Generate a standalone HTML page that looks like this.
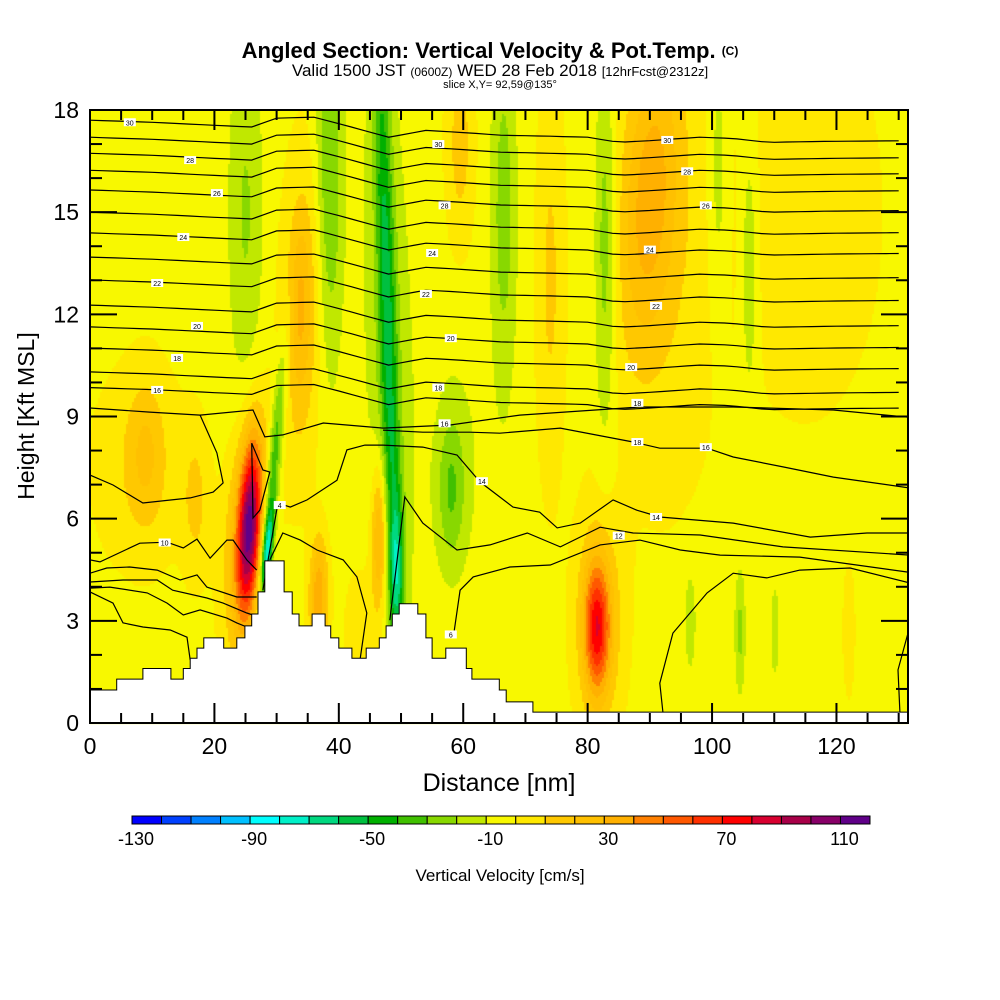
<!DOCTYPE html>
<html><head><meta charset="utf-8">
<style>
html,body{margin:0;padding:0;background:#fff;}
#wrap{position:relative;width:1000px;height:1000px;overflow:hidden;font-family:"Liberation Sans",sans-serif;}
canvas,svg{position:absolute;left:0;top:0;}
</style></head>
<body>
<div id="wrap">
<canvas id="cv" width="1000" height="1000"></canvas>
<svg id="sv" width="1000" height="1000"></svg>
</div>
<script>
// ---- data ----
const colorLevels=[-130,-120,-110,-100,-90,-80,-70,-60,-50,-40,-30,-20,-10,0,10,20,30,40,50,60,70,80,90,100,110];
const colorHex=["#0000ff","#0040ff","#0080ff","#00c0ff","#00ffff","#00f0c8","#00d880","#00c040","#00b000","#40c000","#88d800","#c0e800","#f8f800","#ffe800","#ffc800","#ffc000","#ffb000","#ff8000","#ff5800","#ff3000","#ff0000","#d80030","#a80048","#880068","#600088"];
const colorbarLabels=[-130,-90,-50,-10,30,70,110];
const xTicks=[0,20,40,60,80,100,120];
const yTicks=[0,3,6,9,12,15,18];
const baseVelocity=-3;
// features: distance nm, height kft, sigma nm, sigma kft, amplitude cm/s, tilt nm/kft
const featX=[25.6,25.3,28.5,29.5,38.5,25,47.8,48,49.3,34,33.8,46.5,36.5,81.5,81.8,90,92,82.8,66.5,58,59,104.5,96.5,110.1,9,17,122,106,59.5,74,37,8,115,44,101];
const featZ=[5.8,5.5,5.0,7.5,16,15,12,11,4.5,12,12.4,5.5,3.4,2.8,3.0,15.5,14,14,15,6.8,7.5,2.7,3.0,2.7,8,6.5,2.7,13.5,17,13,4,7.5,15,2.5,16];
const featSX=[1.2,2.2,0.6,0.8,1.5,2,1.0,3.0,0.8,2.2,1.0,0.9,1.0,1.4,2.5,3,6,1.2,1.5,1.5,3,0.6,0.6,0.5,2,1.5,0.6,1.0,1.5,1.5,1.0,5,8,2,1.2];
const featSZ=[1.7,2.3,0.9,2.5,4,4,7,7,1.5,3,1.5,1.5,1.2,1.3,2.2,3,5,4,4,1.5,2.5,1.3,1.0,1.0,1.5,1.5,1.2,3,2,4,1.2,2,4,1.5,3];
const featAmp=[78,45,-70,-40,-28,-18,-40,-15,-40,25,12,40,22,58,27,30,12,-25,-22,-20,-10,-20,-18,-15,15,15,12,-18,18,15,22,12,10,12,-15];
const featTilt=[0.25,0.3,0.5,0.5,0,0,-0.15,-0.15,0,0.1,0,0,0,0,0,0.3,0,0,0,0,0,0,0,0,0,0,0,0,0,0,0,0,0,0,0];
// terrain
const terrainX=[0,4.3,4.3,8.5,8.5,13.0,13.0,15.0,15.0,16.1,16.1,17.2,17.2,18.3,18.3,21.5,21.5,23.6,23.6,24.9,24.9,26.0,26.0,27.0,27.0,28.1,28.1,31.2,31.2,32.5,32.5,33.6,33.6,35.7,35.7,37.8,37.8,38.7,38.7,40.0,40.0,42.1,42.1,44.4,44.4,46.5,46.5,47.6,47.6,48.6,48.6,49.7,49.7,52.7,52.7,54.0,54.0,55.0,55.0,57.2,57.2,60.5,60.5,61.4,61.4,65.8,65.8,66.9,66.9,71.2,71.2,131.5];
const terrainZ=[0.97,0.97,1.29,1.29,1.6,1.6,1.29,1.29,1.6,1.6,1.9,1.9,2.2,2.2,2.5,2.5,2.2,2.2,2.5,2.5,2.85,2.85,3.2,3.2,3.85,3.85,4.76,4.76,3.85,3.85,3.2,3.2,2.85,2.85,3.2,3.2,2.85,2.85,2.5,2.5,2.2,2.2,1.9,1.9,2.2,2.2,2.5,2.5,2.85,2.85,3.2,3.2,3.5,3.5,3.2,3.2,2.5,2.5,1.9,1.9,2.2,2.2,1.6,1.6,1.29,1.29,0.97,0.97,0.62,0.62,0.32,0.32];
// theta contours
const upperBase=[17.70,17.20,16.73,16.23,15.65,15.00,14.39,13.68,13.01,12.27,11.63,11.01,10.31,9.85];
const dispNm=[0,10,20,26,30,36,41,48,54,59,66,74,80,85,90,98,103,109,119,132];
const dispKft=[0,0.06,0.15,0.2,-0.06,-0.09,0.15,0.5,0.3,0.35,0.44,0.47,0.5,0.65,0.6,0.5,0.53,0.65,0.62,0.6];
const lineLA=[0,9.25,9.6,9.13,17.7,9.04,26.2,9.19,28.1,8.40,31.0,8.46,37.5,8.81,47.1,8.66,57.9,8.75,69.1,9.04,88.4,9.28,103.4,9.28,119.5,9.19,131.5,8.98];
const lineLB=[0,7.28,3.7,6.99,8.5,6.46,16.1,6.61,19.8,6.78,21.4,7.05,20.4,7.93,17.7,9.04];
const lineLC=[47.1,8.60,53.5,8.54,61.1,8.54,65.9,8.51,75.6,8.66,87.3,8.25,91.6,8.07,99.2,8.07,103.4,7.81,111.4,7.52,119.5,7.22,131.8,6.90];
const lineLD=[27.8,3.90,30.2,6.46,32.2,6.34,34.9,6.55,39.7,7.13,41.3,8.02,44.2,8.16,47.1,8.16,53.5,8.10,59.0,7.87,62.7,7.08,68.0,6.34,72.3,6.19,75.1,5.73,78.8,5.87,84.1,6.55,87.9,6.25,91.6,6.05,103.4,5.87,115.8,5.46,124.9,5.58,131.8,5.58];
const lineLE=[28.9,4.79,31.0,5.58,33.8,5.37,36.5,5.08,40.7,4.79,42.9,4.29,44.5,3.23,43.4,1.85];
const lineLF=[48.2,3.02,50.6,6.64,53.5,5.87,59.0,5.08,64.3,5.23,70.3,5.58,75.6,5.17,82.0,5.75,87.3,5.58,98.1,5.52,111.4,5.17,131.8,4.93];
const lineLG=[58.4,2.52,59.5,3.90,61.6,4.29,67.5,4.58,74.0,4.64,82.0,5.23,88.4,5.37,94.9,5.08,101.3,4.93,114.1,4.87,131.5,4.43];
const lineLH=[92.1,0.32,91.6,1.17,93.7,2.64,99.2,3.82,103.4,4.40,108.8,4.26,114.1,4.49,122.2,4.55,131.8,4.11];
const lineLI=[131.5,2.64,129.9,1.56,130.2,0.32];
const lineRing=[26.0,8.22,26.2,6.02,27.3,6.25,28.9,7.37,27.8,7.43,26.0,8.22];
const lineL10=[0,4.79,1.6,4.73,8.0,5.28,12.4,5.31,15.0,5.14,17.2,5.40,19.3,4.84,22.0,5.37,23.0,5.37,25.2,4.79,26.8,4.49];
const lineL2=[0,4.40,2.7,4.55,6.4,4.58,10.8,4.49,14.5,4.20,17.2,4.35,18.8,3.99,23.6,3.70,26.8,3.70];
const lineL3=[0,4.14,5.3,4.20,10.8,4.20,13.3,3.90,18.8,3.67,21.4,3.52,25.2,3.23,26.2,3.17];
const lineL4=[0,3.96,3.2,3.99,9.2,3.82,12.4,3.52,15.0,3.17,17.7,3.32,22.0,3.08,23.6,2.94,25.2,2.82];
const lineL5=[0,3.85,3.7,3.52,5.3,2.94,8.5,2.82,12.9,2.73,15.6,2.52,16.1,1.85];
const labelNm=[6.4,16.1,20.4,15.0,10.8,17.2,14.0,10.8,92.8,96,99,90,91,87,88,56,57,55,54,58,56,57,88,63,64,91,85,12,30.5,58,99];
const labelKft=[17.64,16.53,15.56,14.27,12.92,11.66,10.72,9.78,17.12,16.2,15.2,13.9,12.25,10.45,9.4,17.0,15.2,13.8,12.6,11.3,9.85,8.8,8.25,7.1,6.7,6.05,5.5,5.3,6.4,2.6,8.1];
const labelText=["30","28","26","24","22","20","18","16","30","28","26","24","22","20","18","30","28","24","22","20","18","16","18","14","","14","12","10","4","6","16"];

// ---- scales ----
const X0=90,X1=908,Y0=723,Y1=110,NMMAX=131.5,KMAX=18;
const sx=v=>X0+v*(X1-X0)/NMMAX;
const sy=v=>Y0-v*(Y0-Y1)/KMAX;
const inx=p=>(p-X0)*NMMAX/(X1-X0);
const inz=p=>(Y0-p)*KMAX/(Y0-Y1);

// ---- field ----
const cv=document.getElementById('cv');
const ctx=cv.getContext('2d');
ctx.fillStyle='#fff';ctx.fillRect(0,0,1000,1000);
function vel(d,z){
  let v=baseVelocity;
  for(let i=0;i<featX.length;i++){
    const cx=featX[i]+featTilt[i]*(z-featZ[i]);
    const a=(d-cx)/featSX[i], b=(z-featZ[i])/featSZ[i];
    const e=a*a+b*b; if(e<16) v+=featAmp[i]*Math.exp(-0.5*e);
  }
  return v;
}
function colorFor(v){
  let k=Math.floor((v-colorLevels[0])/10);
  if(k<0)k=0;if(k>colorHex.length-1)k=colorHex.length-1;
  return colorHex[k];
}
const step=2;
for(let py=Y1;py<Y0;py+=step){
  for(let px=X0;px<X1;px+=step){
    ctx.fillStyle=colorFor(vel(inx(px+1),inz(py+1)));
    ctx.fillRect(px,py,step,step);
  }
}

// ---- svg ----
const NS='http://www.w3.org/2000/svg';
const sv=document.getElementById('sv');
function mk(tag,attrs,parent){const e=document.createElementNS(NS,tag);for(const k in attrs)e.setAttribute(k,attrs[k]);(parent||sv).appendChild(e);return e;}
const defs=mk('defs',{});
const cp=mk('clipPath',{id:'plotclip'},defs);
mk('rect',{x:X0,y:Y1,width:X1-X0,height:Y0-Y1},cp);

const gl=mk('g',{'clip-path':'url(#plotclip)',fill:'none',stroke:'#000','stroke-width':1.2});


function interpDisp(d){
  for(let i=0;i<dispNm.length-1;i++){if(d>=dispNm[i]&&d<=dispNm[i+1]){const t=(d-dispNm[i])/(dispNm[i+1]-dispNm[i]);return dispKft[i]+t*(dispKft[i+1]-dispKft[i]);}}
  return dispKft[dispKft.length-1];
}
upperBase.forEach((h,j)=>{
  let pts=[];
  for(let d=0;d<=NMMAX;d+=2){
    pts.push(sx(d).toFixed(1)+','+sy(h-interpDisp(d)).toFixed(1));
  }
  const p=mk('polyline',{points:pts.join(' ')},gl);
  
  
});
[lineLA,lineLB,lineLC,lineLD,lineLE,lineLF,lineLG,lineLH,lineLI,lineRing,lineL10,lineL2,lineL3,lineL4,lineL5].forEach(arr=>{
  let pts=[];
  for(let i=0;i<arr.length;i+=2)pts.push(sx(arr[i]).toFixed(1)+','+sy(arr[i+1]).toFixed(1));
  const p=mk('polyline',{points:pts.join(' ')},gl);
  
  
});

// terrain
let tp=[];
for(let i=0;i<terrainX.length;i++)tp.push(sx(terrainX[i]).toFixed(1)+','+sy(terrainZ[i]).toFixed(1));
tp.push(sx(NMMAX)+','+Y0);tp.push(X0+','+Y0);
const terr=mk('polygon',{points:tp.join(' '),fill:'#fff',stroke:'#000','stroke-width':1});



// contour labels
labelNm.forEach((d,i)=>{
  if(!labelText[i])return;
  const g=mk('g',{});
  
  
  mk('rect',{x:sx(d)-6,y:sy(labelKft[i])-4,width:12,height:8,fill:'#fff'},g);
  const t=mk('text',{x:sx(d),y:sy(labelKft[i])+3,'font-size':7,'text-anchor':'middle','font-family':'Liberation Sans, sans-serif'},g);
  t.textContent=labelText[i];
});

// frame & ticks
const ax=mk('g',{stroke:'#000','stroke-width':2});


mk('rect',{x:X0,y:Y1,width:X1-X0,height:Y0-Y1,fill:'none'},ax);
for(let k=0;k<=KMAX;k++){
  const y=sy(k),len=(k%3===0)?27:12;
  mk('line',{x1:X0,x2:X0+len,y1:y,y2:y},ax);
  mk('line',{x1:X1,x2:X1-len,y1:y,y2:y},ax);
}
for(let d=0;d<=NMMAX;d+=5){
  const x=sx(d),len=(d%20===0)?20:10;
  mk('line',{x1:x,x2:x,y1:Y0,y2:Y0-len},ax);
  mk('line',{x1:x,x2:x,y1:Y1,y2:Y1+len},ax);
}
yTicks.forEach(v=>{
  const t=mk('text',{x:79,y:sy(v)+8,'font-size':23,'text-anchor':'end','font-family':'Liberation Sans, sans-serif'});
  
  
  t.textContent=v;
});
xTicks.forEach(v=>{
  const t=mk('text',{x:sx(v),y:754,'font-size':23,'text-anchor':'middle','font-family':'Liberation Sans, sans-serif'});
  
  
  t.textContent=v;
});
const xt=mk('text',{x:499,y:791,'font-size':25,'text-anchor':'middle','font-family':'Liberation Sans, sans-serif'});

xt.textContent='Distance [nm]';
const yt=mk('text',{x:0,y:0,'font-size':23,'text-anchor':'middle','font-family':'Liberation Sans, sans-serif',transform:'translate(34,416) rotate(-90)'});

yt.textContent='Height [Kft MSL]';

// titles
const t1=mk('text',{x:490,y:58,'font-size':22,'font-weight':'bold','text-anchor':'middle','font-family':'Liberation Sans, sans-serif'});

t1.innerHTML='Angled Section: Vertical Velocity &amp; Pot.Temp. <tspan font-size="12" dy="-3">(C)</tspan>';
const t2=mk('text',{x:500,y:76,'font-size':17,'text-anchor':'middle','font-family':'Liberation Sans, sans-serif'});

t2.innerHTML='Valid 1500 JST <tspan font-size="12">(0600Z)</tspan> WED 28 Feb 2018 <tspan font-size="13">[12hrFcst@2312z]</tspan>';
const t3=mk('text',{x:500,y:88,'font-size':11,'text-anchor':'middle','font-family':'Liberation Sans, sans-serif'});

t3.textContent='slice X,Y= 92,59@135°';

// colorbar
const CB0=132,CB1=870,cw=(CB1-CB0)/colorHex.length;
const cb=mk('g',{});

colorHex.forEach((c,i)=>{
  const r=mk('rect',{x:CB0+i*cw,y:816,width:cw,height:8,fill:c,stroke:'#000','stroke-width':1},cb);
  
  
});
colorbarLabels.forEach(v=>{
  const i=colorLevels.indexOf(v);
  const t=mk('text',{x:CB0+i*cw+4,y:845,'font-size':18,'text-anchor':'middle','font-family':'Liberation Sans, sans-serif'},cb);
  
  
  t.textContent=v;
});
const ct=mk('text',{x:500,y:881,'font-size':17,'text-anchor':'middle','font-family':'Liberation Sans, sans-serif'});

ct.textContent='Vertical Velocity [cm/s]';
</script>
</body></html>
